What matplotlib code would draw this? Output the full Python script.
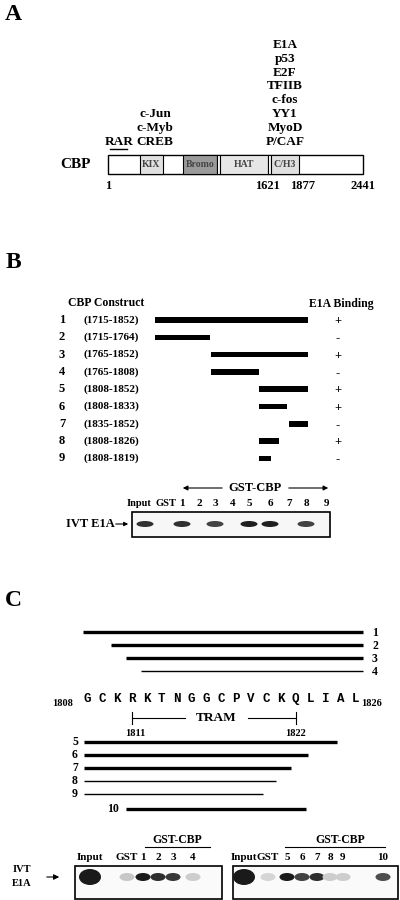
import matplotlib
matplotlib.use("Agg")
import matplotlib.pyplot as plt
from matplotlib.patches import Rectangle, Ellipse

plt.rcParams['font.family'] = ['Liberation Serif', 'DejaVu Serif']
plt.rcParams['font.weight'] = 'bold'

# Panel A
a_domains = ["KIX", "Bromo", "", "HAT", "", "C/H3"]
a_dom_start = [306, 718, 1043, 1072, 1531, 1560]
a_dom_end = [527, 1043, 1072, 1531, 1560, 1828]
a_dom_color = ["#e0e0e0", "#9a9a9a", "white", "#e6e6e6", "white", "#e0e0e0"]
a_ticks = [1, 1621, 1877, 2441]
a_tick_pos = [1, 1531, 1860, 2441]
a_e1a_partners = ["E1A", "p53", "E2F", "TFIIB", "c-fos", "YY1", "MyoD", "P/CAF"]
a_kix_partners = ["c-Jun", "c-Myb", "CREB"]

# Panel B
b_starts = [1715, 1715, 1765, 1765, 1808, 1808, 1835, 1808, 1808]
b_ends = [1852, 1764, 1852, 1808, 1852, 1833, 1852, 1826, 1819]
b_binding = ["+", "-", "+", "-", "+", "+", "-", "+", "-"]
b_lanes = ["Input", "GST", "1", "2", "3", "4", "5", "6", "7", "8", "9"]
b_lane_x = [139, 166, 182, 199, 215, 233, 249, 270, 289, 306, 326]
b_band = [0.9, 0, 0.9, 0, 0.8, 0, 1.0, 1.0, 0, 0.8, 0]

# Panel C
c_seq = list("GCKRKTNGGCPVCKQLIAL")
c_top_start = [1807.7, 1809.6, 1810.6, 1811.6]
c_top_end = [1826.5, 1826.5, 1826.5, 1826.5]
c_top_thick = [True, True, True, False]
c_bot_labels = ["5", "6", "7", "8", "9", "10"]
c_bot_start = [1807.8, 1807.8, 1807.8, 1807.8, 1807.8, 1810.6]
c_bot_end = [1824.8, 1822.8, 1821.7, 1820.7, 1819.8, 1822.7]
c_bot_thick = [True, True, True, False, False, True]
c_lanes1 = ["Input", "GST", "1", "2", "3", "4"]
c_lane1_x = [90, 127, 143, 158, 173, 193]
c_band1 = [1.0, 0.15, 1.0, 0.9, 0.85, 0.12]
c_lanes2 = ["Input", "GST", "5", "6", "7", "8", "9", "10"]
c_lane2_x = [244, 268, 287, 302, 317, 330, 343, 383]
c_band2 = [1.0, 0.08, 1.0, 0.8, 0.9, 0.12, 0.12, 0.75]

fig = plt.figure(figsize=(4, 9), dpi=100)
ax = fig.add_axes([0, 0, 1, 1])
ax.set_xlim(0, 400); ax.set_ylim(900, 0); ax.axis('off')

def T(x, y, s, size=8, ha='center', **kw):
    ax.text(x, y, s, fontsize=size, ha=ha, va='center', fontweight='bold', **kw)

# ---- A
T(13, 15, "A", 17)
ax_x = lambda r: 108 + (r - 1) * 255 / 2440
ax.add_patch(Rectangle((ax_x(1), 155), ax_x(2441) - ax_x(1), 19, fc='white', ec='black', lw=1))
for n, s, e, c in zip(a_domains, a_dom_start, a_dom_end, a_dom_color):
    ax.add_patch(Rectangle((ax_x(s), 155), ax_x(e) - ax_x(s), 19, fc=c, ec='black', lw=0.8))
    if n:
        T((ax_x(s) + ax_x(e)) / 2, 164.5, n, 7, color='#444')
for t, p in zip(a_ticks, a_tick_pos):
    T(ax_x(p), 186, str(t), 9)
for i, s in enumerate(a_e1a_partners):
    T(285, 45 + i * 13.8, s, 9.5)
for i, s in enumerate(a_kix_partners):
    T(155, 114 + i * 13.8, s, 9.5)
T(119, 141.6, "RAR", 9.5)
ax.plot([110, 127], [149, 149], color='black', lw=1)
T(75, 164, "CBP", 11)

# ---- B
T(13, 262, "B", 17)
T(106, 303, "CBP Construct", 8.5)
T(341, 304, "E1A Binding", 8.5)
bx = lambda r: 155 + (r - 1715) * 153 / 137
for i, (s, e, b) in enumerate(zip(b_starts, b_ends, b_binding)):
    y = 320 + i * 17.3
    T(62, y, str(i + 1), 9)
    T(111, y, f"({s}-{e})", 8)
    ax.add_patch(Rectangle((bx(s), y - 2.8), bx(e) - bx(s), 5.6, fc='black', ec='none'))
    T(338, y + 1, b, 9)
T(255, 488, "GST-CBP", 9)
ax.annotate("", xy=(180, 488), xytext=(225, 488), arrowprops=dict(arrowstyle='-|>', lw=0.8, color='k', mutation_scale=7))
ax.annotate("", xy=(331, 488), xytext=(286, 488), arrowprops=dict(arrowstyle='-|>', lw=0.8, color='k', mutation_scale=7))
for l, x in zip(b_lanes, b_lane_x):
    T(x, 503, l, 7.5 if len(l) > 1 else 8)
ax.add_patch(Rectangle((132, 512), 198, 25, fc='#f7f7f7', ec='black', lw=1.2))
for x, v in zip(b_lane_x, b_band):
    if v > 0:
        ax.add_patch(Ellipse((x + (6 if x == b_lane_x[0] else 0), 524), 17, 6, fc=str(0.12 + 0.7 * (1 - v)), ec='none'))
T(90, 524, "IVT E1A", 9)
ax.annotate("", xy=(131, 524), xytext=(113, 524), arrowprops=dict(arrowstyle='-|>', lw=0.8, color='k', mutation_scale=6))

# ---- C
T(13, 600, "C", 17)
cx = lambda r: 87 + (r - 1808) * 14.9
for i, (s, e, t) in enumerate(zip(c_top_start, c_top_end, c_top_thick)):
    y = 632 + i * 13
    ax.plot([cx(s), cx(e)], [y, y], color='black', lw=2.4 if t else 1.0, solid_capstyle='butt')
    T(375, y + 1, str(i + 1), 8.5)
T(63, 704, "1808", 7.5)
T(372, 704, "1826", 7.5)
for i, ch in enumerate(c_seq):
    ax.text(cx(1808 + i), 699, ch, fontsize=9, ha='center', va='center', fontweight='bold', family='Liberation Mono')
ax.plot([cx(1811), 185], [718, 718], color='k', lw=0.8)
ax.plot([248, cx(1822)], [718, 718], color='k', lw=0.8)
ax.plot([cx(1811)] * 2, [712, 724], color='k', lw=0.8)
ax.plot([cx(1822)] * 2, [712, 724], color='k', lw=0.8)
T(216, 718, "TRAM", 9.5)
T(cx(1811) + 4, 734, "1811", 7.5)
T(cx(1822), 734, "1822", 7.5)
for i, (lab, s, e, t) in enumerate(zip(c_bot_labels, c_bot_start, c_bot_end, c_bot_thick)):
    y = 742 + i * 13 + (2 if i == 5 else 0)
    ax.plot([cx(s), cx(e)], [y, y], color='black', lw=2.4 if t else 1.0, solid_capstyle='butt')
    T(113 if i == 5 else 75, y, lab, 8.5)
for lx0, lx1, tx in [(145, 210, 177), (285, 385, 340)]:
    T(tx, 840, "GST-CBP", 8.5)
    ax.plot([lx0, lx1], [847, 847], color='k', lw=0.8)
for labs, xs in [(c_lanes1, c_lane1_x), (c_lanes2, c_lane2_x)]:
    for l, x in zip(labs, xs):
        T(x, 858, l, 8)
ax.add_patch(Rectangle((75, 866), 147, 33, fc='#fafafa', ec='black', lw=1.2))
ax.add_patch(Rectangle((233, 866), 165, 33, fc='#fafafa', ec='black', lw=1.2))
for xs, vals in [(c_lane1_x, c_band1), (c_lane2_x, c_band2)]:
    for j, (x, v) in enumerate(zip(xs, vals)):
        w, h = (22, 16) if j == 0 else (15, 8)
        ax.add_patch(Ellipse((x, 877), w, h, fc=str(0.1 + 0.8 * (1 - v)), ec='none'))
T(22, 870, "IVT", 7.5)
T(22, 883, "E1A", 7.5)
ax.annotate("", xy=(62, 877), xytext=(44, 877), arrowprops=dict(arrowstyle='-|>', lw=0.8, color='k', mutation_scale=8))

fig.savefig("out.png", dpi=100)
